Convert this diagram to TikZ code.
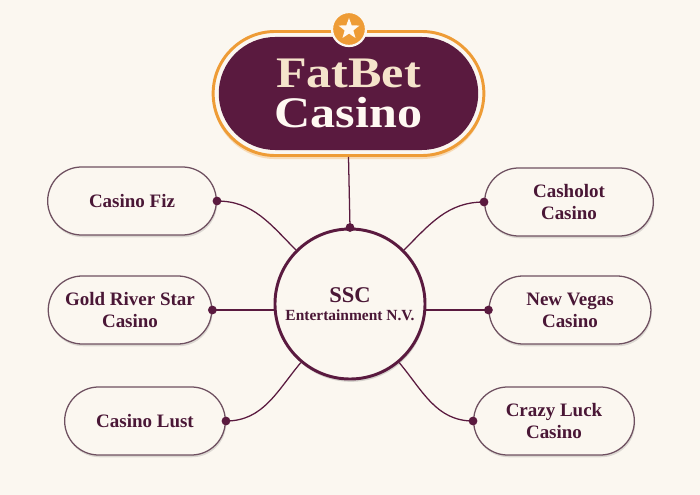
\documentclass[tikz,border=0pt]{standalone}
\usepackage{fontspec}
\setmainfont{Liberation Serif}
\newfontfamily\marcafont[FakeStretch=1.15]{Liberation Serif}
\usetikzlibrary{shapes.misc,shapes.geometric,shadows}

\definecolor{creme}{HTML}{FBF7F0}
\definecolor{vinho}{HTML}{5A1A3F}
\definecolor{tinta}{HTML}{4A1736}
\definecolor{laranja}{HTML}{EE9C36}
\definecolor{borda}{HTML}{6E5060}
\definecolor{palha}{HTML}{F5E4CB}
\definecolor{neve}{HTML}{FFF9F2}

\tikzset{
    casa/.style={rounded rectangle, draw=borda, line width=0.9pt, fill=creme,
        minimum width=4.2cm, minimum height=1.7cm, align=center, text=tinta,
        font=\bfseries\fontsize{13.5}{15.6}\selectfont,
        drop shadow={shadow xshift=0.6pt, shadow yshift=-1.6pt, opacity=0.12, fill=black}},
    junta/.style={circle, fill=vinho, minimum size=0.22cm, inner sep=0pt},
    ligacao/.style={vinho, line width=0.9pt}
}

\begin{document}
\begin{tikzpicture}[x=0.025cm, y=0.025cm]
        % Fundo
        \fill[creme] (0,0) rectangle (700,495);
        \useasboundingbox (0,0) rectangle (700,495);

        % Operador ao centro
        \node[circle, draw=vinho, line width=2.1pt, fill=creme, minimum size=3.75cm,
            align=center, text=tinta, font=\bfseries,
            drop shadow={shadow xshift=0.6pt, shadow yshift=-2pt, opacity=0.15, fill=black}] (ssc) at (350,191)
            {{\fontsize{16}{18}\selectfont SSC}\\[1pt]{\fontsize{11}{13}\selectfont Entertainment N.V.}};

        % Marca no topo
        \node[rounded rectangle, draw=laranja, line width=2.1pt, fill=creme,
            minimum width=7cm, minimum height=3.1cm,
            drop shadow={shadow xshift=0pt, shadow yshift=-2.5pt, opacity=0.3, fill=laranja}] (moldura) at (348.5,401.5) {};
        \node[rounded rectangle, fill=vinho, minimum width=6.72cm, minimum height=2.825cm,
            align=center, font=\marcafont\bfseries\fontsize{31}{28}\selectfont] (fatbet) at (moldura)
            {\textcolor{palha}{FatBet}\\[1pt]\textcolor{neve}{Casino}};
        \node[circle, fill=laranja, draw=creme, line width=1.6pt, minimum size=0.85cm] (selo) at (349,466) {};
        \node[star, star points=5, star point ratio=2.4, fill=neve, minimum size=0.55cm, inner sep=0pt] (estrela) at (selo) {};

        % Casinos do grupo
        \foreach \nome/\x/\y/\largura/\rotulo in {fiz/132/294/4.45cm/{Casino Fiz}, gold/130/185/4.32cm/{Gold River Star\\Casino},
            lust/145/74/4.25cm/{Casino Lust}, casholot/569/293/4.45cm/{Casholot\\Casino},
            vegas/570/185/4.28cm/{New Vegas\\Casino}, crazy/554/74/4.25cm/{Crazy Luck\\Casino}} {
            \node[casa, minimum width=\largura] (\nome) at (\x,\y) {\rotulo};
        }

        % Ligacoes
        \draw[ligacao] (moldura.south) -- (ssc.north);
        \draw[ligacao] (fiz.east) to[out=0, in=135] (ssc.135);
        \draw[ligacao] (gold.east) -- (gold.east -| ssc.west);
        \draw[ligacao] (lust.east) to[out=0, in=230] (ssc.230);
        \draw[ligacao] (casholot.west) to[out=180, in=45] (ssc.45);
        \draw[ligacao] (vegas.west) -- (vegas.west -| ssc.east);
        \draw[ligacao] (crazy.west) to[out=180, in=-50] (ssc.-50);

        % Pontos de ligacao
        \node[junta] (topo) at (ssc.north) {};
        \foreach \nome/\lado in {fiz/east, gold/east, lust/east, casholot/west, vegas/west, crazy/west} {
            \node[junta] (\nome-ponto) at (\nome.\lado) {};
        }
\end{tikzpicture}
\end{document}
